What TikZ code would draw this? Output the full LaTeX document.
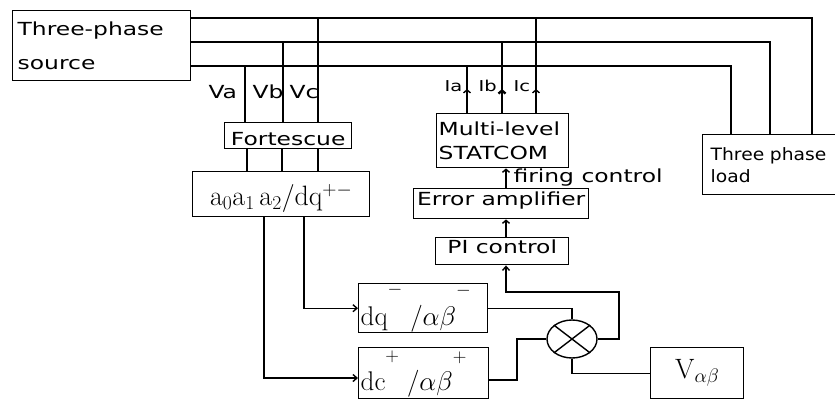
\RequirePackage{fix-cm}
\documentclass[tikz,border=0pt]{standalone}
\usepackage{fontspec}
\newfontfamily\lblfont{DejaVu Sans}[FakeStretch=1.3]
\newfontfamily\loadfont{DejaVu Sans}[FakeStretch=1.1]
\usetikzlibrary{shapes.geometric,arrows.meta,decorations.markings}
\begin{document}
\begin{tikzpicture}[x=1pt,y=-1pt,
  every node/.style={font=\lblfont\fontsize{18}{22}\selectfont},
  box/.style={draw, line width=1.4pt, anchor=north west, inner xsep=2pt, inner ysep=0pt},
  wire/.style={line width=1.4pt},
  thickwire/.style={line width=2.4pt},
  arr/.style={wire, -{Straight Barb[length=4pt,width=7pt]}},
  uparr/.style={wire, -{Straight Barb[length=3pt,width=7pt]}},
  curarrow/.style={postaction={decorate}, decoration={markings, mark=at position 24pt with {\arrow{Straight Barb[length=3pt,width=7pt]}}}},
  small/.style={font=\lblfont\fontsize{15}{18}\selectfont}]
\useasboundingbox (0,0) rectangle (835,400);
\clip (0,0) rectangle (835,400);

% boxes
\node[box, minimum width=178pt, minimum height=70pt, text width=168pt, align=left,
      font=\lblfont\fontsize{18}{34}\selectfont] (src) at (12,10) {Three-phase\\source};
\node[box, minimum width=127pt, text height=23pt, text depth=3pt] (fort) at (224,122) {Fortescue};
\node[box, minimum width=177pt, text height=34pt, text depth=11pt,
      font=\fontsize{28}{30}\selectfont] (adq) at (192,171) {$\mathrm{a_0a_1\,a_2/dq^{+-}}$};
\node[box, minimum width=132pt, minimum height=54pt, text width=128pt, align=left,
      font=\lblfont\fontsize{18}{24}\selectfont] (stat) at (436,113) {Multi-level\\STATCOM};
\node[box, minimum width=175pt, text height=17pt, text depth=13pt] (err) at (413,188) {Error amplifier};
\node[box, minimum width=133pt, text height=16pt, text depth=11pt] (pi) at (435,237) {PI control};
\node[box, minimum width=200pt, minimum height=60pt, text width=184pt, align=left,
      font=\loadfont\fontsize{17}{22}\selectfont] (load) at (702,134) {Three phase\\load};
\node[box, text height=42pt, text depth=7pt, font=\fontsize{27}{30}\selectfont] (dqm) at (358,283)
  {\makebox[125pt][l]{$\mathrm{dq}^{\smash{\raisebox{20pt}{$\scriptstyle-$}}}\;/\alpha\beta^{\smash{\raisebox{20pt}{$\scriptstyle-$}}}$}};
\node[box, text height=43pt, text depth=8pt, font=\fontsize{27}{30}\selectfont] (dqp) at (358,347)
  {\makebox[126pt][l]{$\mathrm{dc}^{\smash{\raisebox{18pt}{$\scriptstyle+$}}}\;/\alpha\beta^{\smash{\raisebox{18pt}{$\scriptstyle+$}}}$}};
\node[box, minimum width=93pt, text height=31pt, text depth=20pt,
      font=\fontsize{28}{30}\selectfont] (vab) at (650,347) {$\mathrm{V}_{\alpha\beta}$};
\node[draw, ellipse, line width=1.4pt, minimum width=50pt, minimum height=38pt, inner sep=0pt] (mul) at (572,339) {};
\draw[wire] (mul.north west) -- (mul.south east) (mul.north east) -- (mul.south west);

% labels
\node[anchor=base west] (va) at (205,98) {Va};
\node[anchor=base west] (vb) at (249,98) {Vb};
\node[anchor=base west] (vc) at (286,98) {Vc};
\node[small, anchor=base west] (ia) at (441,91) {Ia};
\node[small, anchor=base west] (ib) at (475,91) {Ib};
\node[small, anchor=base west] (ic) at (510,91) {Ic};
\node[anchor=base west] (fc) at (510,182) {firing control};

% coordinates
\coordinate (tA) at (812,18);
\coordinate (tB) at (770,42);
\coordinate (tC) at (731,66);
\coordinate (xa) at (245,0);
\coordinate (xb) at (283,0);
\coordinate (xc) at (318,0);
\coordinate (fa) at (247,0);
\coordinate (fb) at (282,0);
\coordinate (fcx) at (318,0);
\coordinate (xia) at (467,0);
\coordinate (xib) at (502,0);
\coordinate (xic) at (536,0);
\coordinate (o1) at (264,0);
\coordinate (o2) at (304,0);
\coordinate (yq) at (0,378);
\coordinate (j1) at (517,380);
\coordinate (j2) at (619,292);
\coordinate (j3) at (506,292);

% buses
\draw[wire] (src.east |- tA) -- (tA) -- (load.north -| tA);
\draw[thickwire] (src.east |- tB) -- (tB) -- (load.north -| tB);
\draw[wire] (src.east |- tC) -- (tC) -- (load.north -| tC);

% voltage taps
\draw[wire] (xa |- tC) -- (fort.north -| xa);
\draw[wire] (xb |- tB) -- (fort.north -| xb);
\draw[wire] (xc |- tA) -- (fort.north -| xc);
\draw[wire] (fort.south -| fa) -- (adq.north -| fa);
\draw[wire] (fort.south -| fb) -- (adq.north -| fb);
\draw[wire] (fort.south -| fcx) -- (adq.north -| fcx);

% current taps
\draw[wire, curarrow] (stat.north -| xia) -- (xia |- tC);
\draw[thickwire, curarrow] (stat.north -| xib) -- (xib |- tB);
\draw[wire, curarrow] (stat.north -| xic) -- (xic |- tA);

% transforms
\draw[arr] (adq.south -| o2) |- (dqm.west);
\draw[arr] (adq.south -| o1) |- (dqp.west |- yq);
\draw[wire] (dqm.east) -| (mul.north);
\draw[wire] (dqp.east |- j1) -- (j1) |- (mul.west);
\draw[wire] (mul.south) |- (vab.west);
\draw[arr] (mul.east) -| (j2) -| (pi.south -| j3);
\draw[uparr] (pi.north -| j3) -- (err.south -| j3);
\draw[uparr] (err.north -| j3) -- (stat.south -| j3);
\end{tikzpicture}
\end{document}
